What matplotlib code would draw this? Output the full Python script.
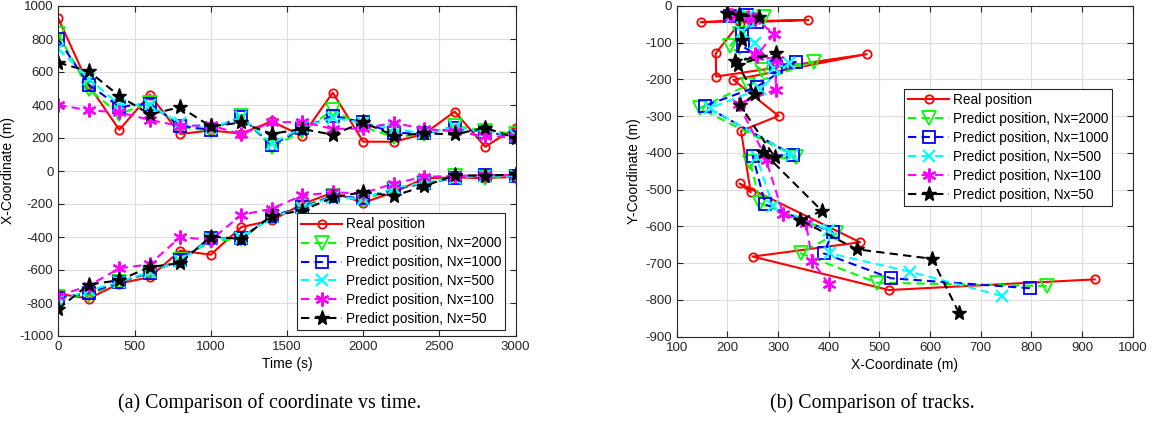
import numpy as np
import matplotlib
matplotlib.use('Agg')
import matplotlib.pyplot as plt

# ---------------- dados ----------------
tempo = [0, 200, 400, 600, 800, 1000, 1200, 1400, 1600, 1800, 2000, 2200, 2400, 2600, 2800, 3000]

real_x = [925, 519, 250, 462, 224, 246, 227, 301, 212, 475, 178, 177, 225, 360, 147, 262]
real_y = [-744, -773, -682, -643, -483, -507, -340, -299, -201, -131, -192, -129, -45, -38, -44, -35]

nx2000_x = [830, 495, 345, 415, 265, 245, 335, 145, 240, 370, 268, 205, 225, 272, 245, 225]
nx2000_y = [-762, -753, -673, -619, -537, -425, -410, -278, -215, -152, -175, -110, -75, -30, -40, -35]

nx1000_x = [797, 523, 390, 408, 275, 250, 330, 155, 258, 335, 295, 230, 228, 258, 238, 205]
nx1000_y = [-768, -741, -673, -616, -540, -408, -406, -272, -220, -152, -165, -110, -75, -43, -25, -28]

nx500_x = [742, 560, 402, 400, 290, 258, 327, 165, 265, 322, 292, 255, 228, 265, 240, 210]
nx500_y = [-789, -723, -673, -610, -545, -412, -405, -278, -225, -156, -170, -102, -72, -40, -28, -30]

nx100_x = [400, 368, 355, 310, 272, 278, 222, 295, 297, 255, 258, 292, 255, 240, 210, 205]
nx100_y = [-757, -695, -590, -565, -400, -418, -267, -228, -148, -130, -135, -76, -35, -30, -25, -25]

nx50_x = [657, 604, 455, 343, 387, 270, 294, 225, 255, 220, 295, 215, 228, 222, 262, 200]
nx50_y = [-835, -688, -662, -582, -558, -397, -412, -270, -240, -160, -128, -151, -92, -25, -29, -20]

rotulos = ['Real position', 'Predict position, Nx=2000', 'Predict position, Nx=1000',
           'Predict position, Nx=500', 'Predict position, Nx=100', 'Predict position, Nx=50']

# ---------------- estilos ----------------
tracejado = (0, (4, 2.5))
asterisco = (6, 2, 0)
estilos = [
    dict(color='red', linestyle='-', marker='o', markersize=6, markerfacecolor='none', markeredgewidth=1.3),
    dict(color='#00ff00', linestyle=tracejado, marker='v', markersize=10, markerfacecolor='none', markeredgewidth=1.3),
    dict(color='blue', linestyle=tracejado, marker='s', markersize=8, markerfacecolor='none', markeredgewidth=1.3),
    dict(color='cyan', linestyle=tracejado, marker='x', markersize=8, markeredgewidth=1.6),
    dict(color='magenta', linestyle=tracejado, marker=asterisco, markersize=10, markeredgewidth=1.6),
    dict(color='black', linestyle=tracejado, marker='*', markersize=11, markerfacecolor='black'),
]

series = [(real_x, real_y), (nx2000_x, nx2000_y), (nx1000_x, nx1000_y),
          (nx500_x, nx500_y), (nx100_x, nx100_y), (nx50_x, nx50_y)]

plt.rcParams['font.family'] = ['Liberation Sans', 'DejaVu Sans']
plt.rcParams['font.size'] = 9.5
plt.rcParams['axes.unicode_minus'] = False

fig = plt.figure(figsize=(11.54, 4.24), dpi=100)
W, H = 1154, 424
ax1 = fig.add_axes([58.3 / W, 1 - 336 / H, 457.4 / W, 330 / H])
ax2 = fig.add_axes([676.7 / W, 1 - 336.7 / H, 456 / W, 330.7 / H])

for (sx, sy), est, rot in zip(series, estilos, rotulos):
    ax1.plot(tempo, sx, linewidth=1.5, label=rot, **est)
    ax1.plot(tempo, sy, linewidth=1.5, **est)
    ax2.plot(sx, sy, linewidth=1.5, label=rot, **est)

ax1.set_xlim(0, 3000)
ax1.set_ylim(-1000, 1000)
ax1.set_xticks(np.arange(0, 3001, 500))
ax1.set_yticks(np.arange(-1000, 1001, 200))
ax1.set_xlabel('Time (s)', labelpad=3, fontsize=10)
ax1.set_ylabel('X-Coordinate (m)', labelpad=3, fontsize=10)

ax2.set_xlim(100, 1000)
ax2.set_ylim(-900, 0)
ax2.set_xticks(np.arange(100, 1001, 100))
ax2.set_yticks(np.arange(-900, 1, 100))
ax2.set_xlabel('X-Coordinate (m)', labelpad=3, fontsize=10)
ax2.set_ylabel('Y-Coordinate (m)', labelpad=3, fontsize=10)

for ax in [ax1, ax2]:
    ax.grid(True, color='#dedede', linewidth=0.8)
    ax.set_axisbelow(True)
    ax.tick_params(direction='in', top=True, right=True, length=4, colors='#262626',
                   labelcolor='#262626', labelsize=9.5)
    for sp in ax.spines.values():
        sp.set_color('#262626')
        sp.set_linewidth(0.8)

leg_kw = dict(fancybox=False, edgecolor='#262626', framealpha=1, handlelength=3.0,
              handletextpad=0.25, labelspacing=0.36, borderpad=0.3, borderaxespad=0,
              fontsize=9.8)
l1 = ax1.legend(loc='lower right', bbox_to_anchor=(0.977, 0.018), **leg_kw)
l2 = ax2.legend(loc='upper right', bbox_to_anchor=(0.9546, 0.749), **leg_kw)
for l in [l1, l2]:
    l.get_frame().set_linewidth(0.8)

fig.text(270 / W, 1 - 403 / H, '(a) Comparison of coordinate vs time.', ha='center', va='center',
         family=['Liberation Serif', 'DejaVu Serif'], fontsize=14.3)
fig.text(872 / W, 1 - 403 / H, '(b) Comparison of tracks.', ha='center', va='center',
         family=['Liberation Serif', 'DejaVu Serif'], fontsize=14.3)

fig.savefig('out.png', dpi=100)
